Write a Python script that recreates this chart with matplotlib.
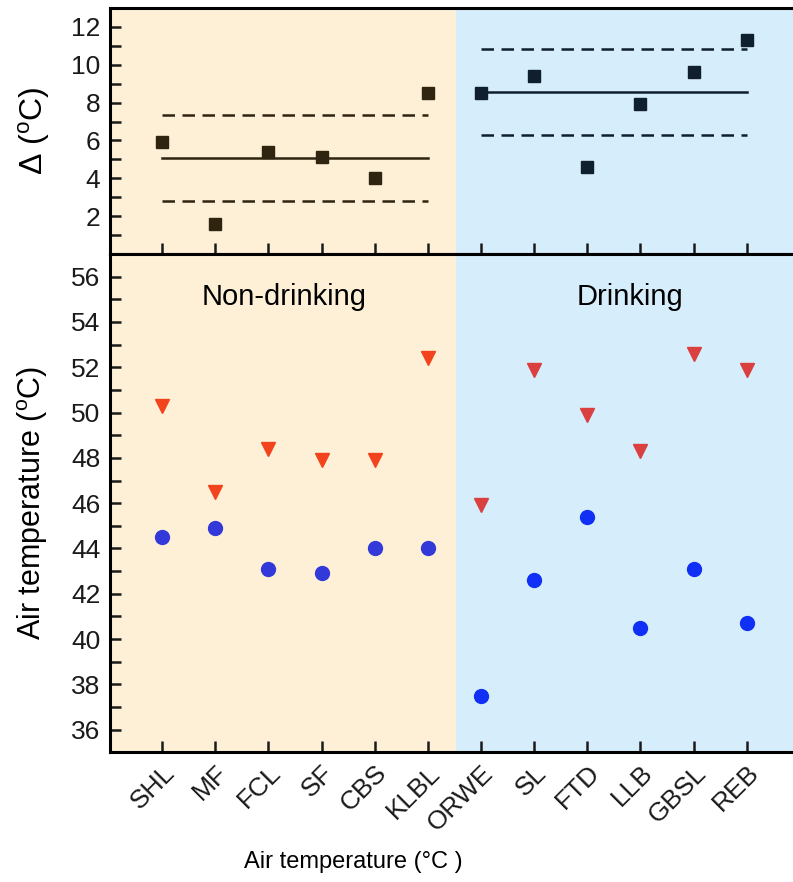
import numpy as np
import matplotlib
matplotlib.use('Agg')
import matplotlib.pyplot as plt
from matplotlib.ticker import MultipleLocator

plt.rcParams['font.family'] = ['Liberation Sans', 'DejaVu Sans']
plt.rcParams['mathtext.fontset'] = 'custom'
plt.rcParams['mathtext.rm'] = 'Liberation Sans'

# data
sites = ['SHL', 'MF', 'FCL', 'SF', 'CBS', 'KLBL', 'ORWE', 'SL', 'FTD', 'LLB', 'GBSL', 'REB']
delta = [5.9, 1.6, 5.4, 5.1, 4.0, 8.5, 8.5, 9.4, 4.6, 7.9, 9.6, 11.3]
t_high = [50.3, 46.5, 48.4, 47.9, 47.9, 52.4, 45.9, 51.9, 49.9, 48.3, 52.6, 51.9]
t_low = [44.5, 44.9, 43.1, 42.9, 44.0, 44.0, 37.5, 42.6, 45.4, 40.5, 43.1, 40.7]
groups = ['Non-drinking', 'Drinking']
n_non = 6  # first six sites are non-drinking

x = np.arange(1, len(sites) + 1)
split = 6.53
xlim = (0.02, 12.87)

bg = ['#fdf0d7', '#d6edfb']
sq_col = ['#2e2410', '#0f1f2e']
tri_col = ['#f2441c', '#d9403f']
dot_col = ['#3339d9', '#1030f5']
sl = [slice(0, n_non), slice(n_non, len(sites))]

fig = plt.figure(figsize=(7.93, 8.82), dpi=100)
ax1 = fig.add_axes([0.1387, 0.712, 0.8613, 0.279])
ax2 = fig.add_axes([0.1387, 0.147, 0.8613, 0.565])

for ax in (ax1, ax2):
    ax.axvspan(xlim[0], split, color=bg[0], zorder=0, lw=0)
    ax.axvspan(split, xlim[1], color=bg[1], zorder=0, lw=0)
    ax.set_xlim(*xlim)
    ax.set_xticks(x)
    ax.spines['right'].set_visible(False)
    for s in ax.spines.values():
        s.set_linewidth(2.2)
    ax.tick_params(direction='in', length=8, width=1.8, which='both',
                   labelsize=19, colors='#1a1a1a', pad=7)
    ax.tick_params(axis='x', which='minor', bottom=False)

# top panel: delta with mean +/- SD
for g in range(2):
    xs = x[sl[g]]
    d = np.array(delta[sl[g]])
    m, sd = d.mean(), d.std(ddof=1)
    ax1.plot([xs[0], xs[-1]], [m, m], color=sq_col[g], lw=1.8, zorder=2)
    for v in (m + sd, m - sd):
        ax1.plot([xs[0], xs[-1]], [v, v], color=sq_col[g], lw=1.8,
                 dashes=(5, 3), zorder=2)
    ax1.plot(xs, d, 's', color=sq_col[g], ms=8.5, zorder=3)

ax1.set_ylim(0, 13)
ax1.yaxis.set_major_locator(MultipleLocator(2))
ax1.yaxis.set_minor_locator(MultipleLocator(1))
ax1.set_yticks([2, 4, 6, 8, 10, 12])
ax1.tick_params(axis='x', labelbottom=False)
ax1.set_ylabel(r'Δ ($^{\mathrm{o}}$C)', fontsize=23, va='center')
ax1.yaxis.set_label_coords(-0.111, 0.5)

# bottom panel: air temperatures
for g in range(2):
    xs = x[sl[g]]
    ax2.plot(xs, t_high[sl[g]], 'v', color=tri_col[g], ms=9.5, zorder=3)
    ax2.plot(xs, t_low[sl[g]], 'o', color=dot_col[g], ms=10, zorder=3)

ax2.text(3.3, 55.1, groups[0], fontsize=21, ha='center', va='center')
ax2.text(9.8, 55.1, groups[1], fontsize=21, ha='center', va='center')

ax2.set_ylim(35, 57)
ax2.yaxis.set_major_locator(MultipleLocator(2))
ax2.yaxis.set_minor_locator(MultipleLocator(1))
ax2.set_xticklabels(sites, rotation=45, ha='right', va='top',
                    rotation_mode='anchor')
ax2.tick_params(axis='x', pad=6)
ax2.set_ylabel(r'Air temperature ($^{\mathrm{o}}$C)', fontsize=22, va='center')
ax2.yaxis.set_label_coords(-0.113, 0.5)

fig.text(0.445, 0.0227, 'Air temperature (°C )', fontsize=17,
         ha='center', va='center')

fig.savefig('out.png', dpi=100)
